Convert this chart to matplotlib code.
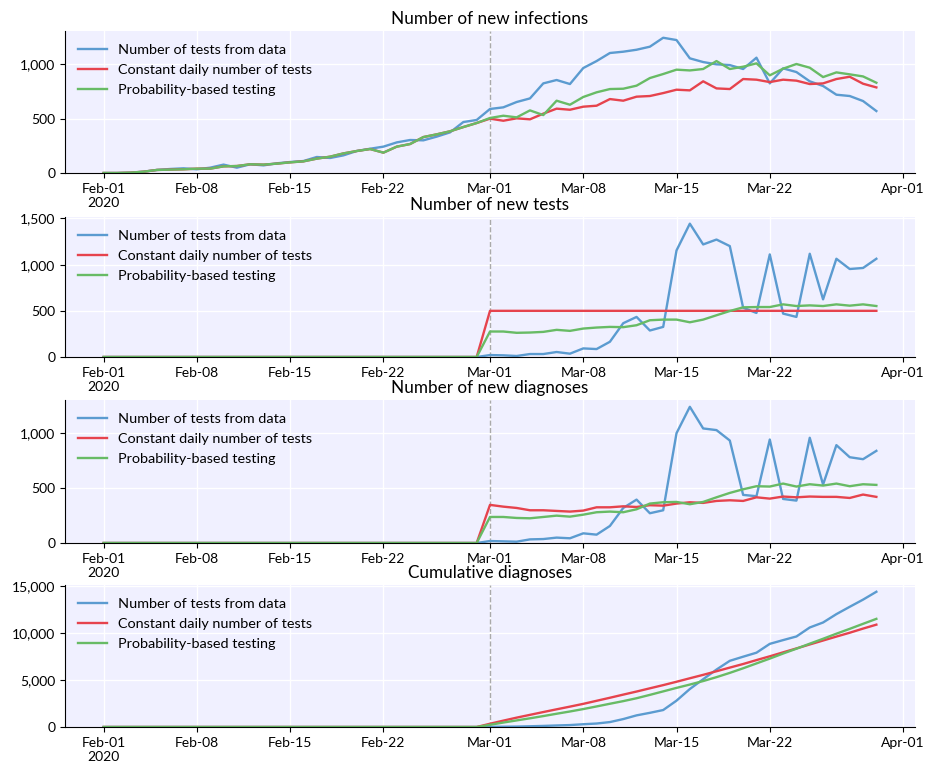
import numpy as np
import pandas as pd
import matplotlib
matplotlib.use('Agg')
import matplotlib.pyplot as plt
import matplotlib.ticker as ticker

plt.rcParams['font.family'] = ['Lato', 'DejaVu Sans']

dates = pd.date_range('2020-02-01', '2020-03-30')
intervention = pd.Timestamp('2020-03-01')
labels = ['Number of tests from data', 'Constant daily number of tests', 'Probability-based testing']
titles = ['Number of new infections', 'Number of new tests', 'Number of new diagnoses', 'Cumulative diagnoses']
tick_dates = ['2020-02-01', '2020-02-08', '2020-02-15', '2020-02-22', '2020-03-01',
              '2020-03-08', '2020-03-15', '2020-03-22', '2020-04-01']
tick_labels = ['Feb-01\n2020', 'Feb-08', 'Feb-15', 'Feb-22', 'Mar-01', 'Mar-08', 'Mar-15', 'Mar-22', 'Apr-01']

# new infections, Feb-01 .. Feb-29
inf_pre_data = [0, 0, 3, 12, 28, 37, 43, 34, 49, 77, 49, 80, 70, 89, 101, 110, 147, 138, 162, 202,
                223, 242, 281, 303, 300, 334, 373, 468, 487]
inf_pre_sim = [0, 0, 3, 12, 28, 31, 34, 40, 40, 61, 64, 80, 77, 86, 98, 107, 132, 150, 180, 202,
               220, 187, 242, 266, 330, 355, 383, 422, 459]
# Mar-01 .. Mar-30
inf_data = [588, 603, 652, 685, 823, 854, 817, 964, 1028, 1102, 1114, 1132, 1160, 1242, 1221, 1053,
            1019, 998, 991, 955, 1059, 823, 961, 927, 842, 799, 719, 707, 661, 569]
inf_const = [499, 480, 502, 493, 545, 591, 581, 609, 618, 679, 664, 701, 707, 734, 765, 759, 842,
             777, 771, 863, 857, 835, 857, 848, 817, 823, 863, 884, 820, 786]
inf_prob = [505, 526, 511, 575, 532, 664, 627, 698, 741, 771, 774, 802, 872, 909, 949, 942, 955,
            1028, 955, 976, 1007, 897, 958, 1001, 967, 881, 924, 906, 887, 829]

zeros_pre = [0] * 29
tests_data = [21, 18, 11, 32, 32, 54, 36, 93, 86, 165, 366, 434, 287, 326, 1154, 1444, 1219, 1272,
              1201, 534, 477, 1111, 470, 434, 1118, 624, 1064, 953, 964, 1064]
tests_const = [500] * 30
tests_prob = [276, 276, 262, 265, 272, 294, 283, 308, 319, 326, 323, 344, 398, 405, 405, 376, 405,
              452, 498, 538, 541, 541, 570, 552, 559, 552, 570, 556, 570, 552]

diag_data = [18, 15, 12, 33, 36, 49, 43, 88, 76, 155, 319, 395, 271, 298, 1000, 1240, 1043, 1028,
             933, 438, 426, 942, 401, 386, 958, 532, 891, 781, 763, 839]
diag_const = [347, 331, 319, 298, 298, 292, 286, 295, 325, 325, 334, 328, 344, 340, 359, 371, 365,
              383, 389, 383, 416, 404, 423, 416, 423, 420, 420, 410, 441, 420]
diag_prob = [237, 237, 228, 225, 237, 249, 240, 258, 280, 286, 280, 307, 359, 371, 374, 353, 374,
             416, 456, 489, 517, 514, 541, 514, 535, 523, 541, 517, 535, 529]

cum_data = [18, 33, 45, 78, 114, 163, 206, 294, 370, 525, 844, 1239, 1510, 1808, 2808, 4048, 5091,
            6119, 7052, 7490, 7916, 8858, 9259, 9645, 10603, 11135, 12026, 12807, 13570, 14409]
cum_const = [347, 678, 997, 1295, 1593, 1885, 2171, 2466, 2791, 3116, 3450, 3778, 4122, 4462, 4821,
             5192, 5557, 5940, 6329, 6712, 7128, 7532, 7955, 8371, 8794, 9214, 9634, 10044, 10485, 10905]
cum_prob = [237, 474, 702, 927, 1164, 1413, 1653, 1911, 2191, 2477, 2757, 3064, 3423, 3794, 4168,
            4521, 4895, 5311, 5767, 6256, 6773, 7287, 7828, 8342, 8877, 9400, 9941, 10458, 10993, 11522]

series = [
    [inf_pre_data + inf_data, inf_pre_sim + inf_const, inf_pre_sim + inf_prob],
    [zeros_pre + tests_data, zeros_pre + tests_const, zeros_pre + tests_prob],
    [zeros_pre + diag_data, zeros_pre + diag_const, zeros_pre + diag_prob],
    [zeros_pre + cum_data, zeros_pre + cum_const, zeros_pre + cum_prob],
]
colors = ['#5b9bd0', '#e6434d', '#68bb65']

fig = plt.figure(figsize=(9.35, 7.75), dpi=100)
tops = [31, 217, 400, 585]
bottoms = [173, 357, 543, 727]
for i in range(4):
    ax = fig.add_axes([65 / 935, 1 - bottoms[i] / 775, 850 / 935, (bottoms[i] - tops[i]) / 775])
    ax.set_facecolor('#f0f0ff')
    for vals, c, lab in zip(series[i], colors, labels):
        ax.plot(dates, vals, color=c, lw=1.7, label=lab)
    ax.axvline(intervention, color='#aaaaaa', ls='--', lw=1, zorder=1)
    ax.set_ylim(bottom=0)
    ax.grid(True, color='white', lw=1)
    ax.set_axisbelow(True)
    for s in ['top', 'right']:
        ax.spines[s].set_visible(False)
    ax.set_xticks(pd.to_datetime(tick_dates))
    ax.set_xticklabels(tick_labels)
    ax.yaxis.set_major_formatter(ticker.FuncFormatter(lambda v, p: f'{v:,.0f}'))
    ax.tick_params(labelsize=10)
    ax.set_title(titles[i], fontsize=12.3, pad=5)
    ax.legend(loc='upper left', frameon=False, fontsize=10.4, labelspacing=0.55)

fig.savefig('out.png')
